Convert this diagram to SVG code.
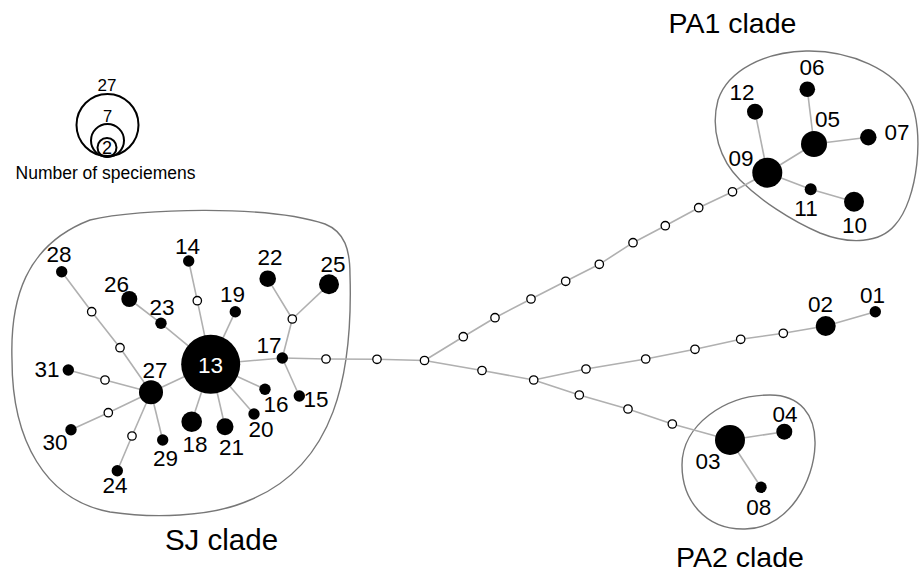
<svg xmlns="http://www.w3.org/2000/svg" width="922" height="575" viewBox="0 0 922 575">
  <style>
    text { font-family: "Liberation Sans", Arial, Helvetica, sans-serif; fill: #000; }
    .lbl { font-size: 22.5px; text-anchor: middle; }
    .clade-name { font-size: 28.5px; text-anchor: middle; }
    .legend-txt { text-anchor: middle; }
    .hap { fill: #000; }
    .mv { fill: #fff; stroke: #000; stroke-width: 1.3; }
    .edge { fill: none; stroke: #b0b0b0; stroke-width: 1.6; stroke-linejoin: round; }
    .clade { fill: none; stroke: #777; stroke-width: 1.4; }
    .legend-ring { fill: none; stroke: #000; stroke-width: 2; }
  </style>

  <!-- size legend -->
  <g id="legend">
    <circle class="legend-ring" cx="107.5" cy="125" r="31"/>
    <circle class="legend-ring" cx="107.5" cy="140.5" r="16.5"/>
    <circle class="legend-ring" cx="107" cy="147.5" r="9.5"/>
    <text class="legend-txt" x="107" y="91" style="font-size:17px">27</text>
    <text class="legend-txt" x="107.5" y="121.5" style="font-size:16.5px">7</text>
    <text class="legend-txt" x="107" y="153.5" style="font-size:18px">2</text>
    <text class="legend-txt" x="105.5" y="178.5" style="font-size:17.5px">Number of speciemens</text>
  </g>

  <!-- clade outlines -->
  <g id="clade-SJ">
    <path class="clade" d="M 90,220 C 140,208 270,205 325,224 C 345,232 350,250 350,275 C 353,375 335,465 250,500 C 210,518 150,518 110,512 C 45,500 12,440 12,360 C 10,300 25,245 90,220 Z"/>
    <text class="clade-name" x="221.5" y="550" style="font-size:29.5px">SJ clade</text>
  </g>
  <g id="clade-PA1">
    <path class="clade" d="M 806,51 C 850,50 895,70 910,100 C 925,130 918,200 895,225 C 880,243 850,245 820,233 C 790,220 760,200 740,180 C 720,160 710,130 718,100 C 728,70 765,52 806,51 Z"/>
    <text class="clade-name" x="732.5" y="33">PA1 clade</text>
  </g>
  <g id="clade-PA2">
    <path class="clade" d="M 770,395 C 800,395 816,415 815,445 C 814,480 790,528 745,529 C 705,530 682,500 682,465 C 682,425 725,395 770,395 Z"/>
    <text class="clade-name" x="740" y="567">PA2 clade</text>
  </g>

  <!-- connectors -->
  <g id="connectors">
    <polyline class="edge" points="61.7,271.7 91.7,311.7 120,347.7 151,392.3"/>
    <polyline class="edge" points="68.3,370 105,380 151,392.3"/>
    <polyline class="edge" points="71,429.7 108.3,412.7 151,392.3"/>
    <polyline class="edge" points="117.3,470.7 132,436 151,392.3"/>
    <line class="edge" x1="162.7" y1="440" x2="151" y2="392.3"/>
    <line class="edge" x1="151" y1="392.3" x2="210.7" y2="364.3"/>
    <polyline class="edge" points="129.3,299 161,323.3 210.7,364.3"/>
    <polyline class="edge" points="188.7,261 197.3,300.7 210.7,364.3"/>
    <line class="edge" x1="235.3" y1="311.7" x2="210.7" y2="364.3"/>
    <line class="edge" x1="191.7" y1="421.7" x2="210.7" y2="364.3"/>
    <line class="edge" x1="225" y1="426.7" x2="210.7" y2="364.3"/>
    <line class="edge" x1="254" y1="414" x2="210.7" y2="364.3"/>
    <line class="edge" x1="265" y1="389.3" x2="210.7" y2="364.3"/>
    <line class="edge" x1="210.7" y1="364.3" x2="282.3" y2="358"/>
    <polyline class="edge" points="267.7,278.7 292.3,319 282.3,358"/>
    <line class="edge" x1="329" y1="284.3" x2="292.3" y2="319"/>
    <line class="edge" x1="282.3" y1="358" x2="299.3" y2="396"/>
    <polyline class="edge" points="282.3,358 326,359 377,359.3 424.5,360.5"/>
    <polyline class="edge" points="424.5,360.5 463.3,336.7 495,317.7 531,299 565.7,281.3 599.3,264.3 633,242.7 665.3,225.7 698.7,207.7 732.5,191.8 767.3,172.7"/>
    <polyline class="edge" points="424.5,360.5 482,370.5 533.7,380 586,369 645.7,359 695,349.3 740.7,339.3 783.3,333.3 825.7,326 875.3,311.7"/>
    <polyline class="edge" points="533.7,380 579.3,395 628,409 672.3,424 730,440"/>
    <line class="edge" x1="730" y1="440" x2="784.3" y2="431.7"/>
    <line class="edge" x1="730" y1="440" x2="761" y2="487.3"/>
    <line class="edge" x1="767.3" y1="172.7" x2="755" y2="111.7"/>
    <line class="edge" x1="767.3" y1="172.7" x2="814" y2="144"/>
    <line class="edge" x1="814" y1="144" x2="807.3" y2="89.3"/>
    <line class="edge" x1="814" y1="144" x2="868.3" y2="137.3"/>
    <polyline class="edge" points="767.3,172.7 810.7,189.3 854,201.7"/>
  </g>

  <!-- median vectors (unsampled haplotypes) -->
  <g id="mv-1"><circle class="mv" cx="91.7" cy="311.7" r="4.2"/></g>
  <g id="mv-2"><circle class="mv" cx="120" cy="347.7" r="4.2"/></g>
  <g id="mv-3"><circle class="mv" cx="105" cy="380" r="4.2"/></g>
  <g id="mv-4"><circle class="mv" cx="108.3" cy="412.7" r="4.2"/></g>
  <g id="mv-5"><circle class="mv" cx="132" cy="436" r="4.2"/></g>
  <g id="mv-6"><circle class="mv" cx="197.3" cy="300.7" r="4.2"/></g>
  <g id="mv-7"><circle class="mv" cx="292.3" cy="319" r="4.2"/></g>
  <g id="mv-8"><circle class="mv" cx="326" cy="359" r="4.2"/></g>
  <g id="mv-9"><circle class="mv" cx="377" cy="359.3" r="4.2"/></g>
  <g id="mv-10"><circle class="mv" cx="424.5" cy="360.5" r="4.2"/></g>
  <g id="mv-11"><circle class="mv" cx="463.3" cy="336.7" r="4.2"/></g>
  <g id="mv-12"><circle class="mv" cx="495" cy="317.7" r="4.2"/></g>
  <g id="mv-13"><circle class="mv" cx="531" cy="299" r="4.2"/></g>
  <g id="mv-14"><circle class="mv" cx="565.7" cy="281.3" r="4.2"/></g>
  <g id="mv-15"><circle class="mv" cx="599.3" cy="264.3" r="4.2"/></g>
  <g id="mv-16"><circle class="mv" cx="633" cy="242.7" r="4.2"/></g>
  <g id="mv-17"><circle class="mv" cx="665.3" cy="225.7" r="4.2"/></g>
  <g id="mv-18"><circle class="mv" cx="698.7" cy="207.7" r="4.2"/></g>
  <g id="mv-19"><circle class="mv" cx="732.5" cy="191.8" r="4.2"/></g>
  <g id="mv-20"><circle class="mv" cx="482" cy="370.5" r="4.2"/></g>
  <g id="mv-21"><circle class="mv" cx="533.7" cy="380" r="4.2"/></g>
  <g id="mv-22"><circle class="mv" cx="586" cy="369" r="4.2"/></g>
  <g id="mv-23"><circle class="mv" cx="645.7" cy="359" r="4.2"/></g>
  <g id="mv-24"><circle class="mv" cx="695" cy="349.3" r="4.2"/></g>
  <g id="mv-25"><circle class="mv" cx="740.7" cy="339.3" r="4.2"/></g>
  <g id="mv-26"><circle class="mv" cx="783.3" cy="333.3" r="4.2"/></g>
  <g id="mv-27"><circle class="mv" cx="579.3" cy="395" r="4.2"/></g>
  <g id="mv-28"><circle class="mv" cx="628" cy="409" r="4.2"/></g>
  <g id="mv-29"><circle class="mv" cx="672.3" cy="424" r="4.2"/></g>

  <!-- sampled haplotypes: SJ clade -->
  <g id="hap-13"><circle class="hap" cx="210.7" cy="364.3" r="29.5"/><text class="lbl" x="210.5" y="372.5" style="fill:#fff">13</text></g>
  <g id="hap-27"><circle class="hap" cx="151" cy="392.3" r="12"/><text class="lbl" x="155" y="377.5">27</text></g>
  <g id="hap-28"><circle class="hap" cx="61.7" cy="271.7" r="5.7"/><text class="lbl" x="59" y="262">28</text></g>
  <g id="hap-26"><circle class="hap" cx="129.3" cy="299" r="8"/><text class="lbl" x="116.5" y="292">26</text></g>
  <g id="hap-23"><circle class="hap" cx="161" cy="323.3" r="5.7"/><text class="lbl" x="162" y="314.5">23</text></g>
  <g id="hap-14"><circle class="hap" cx="188.7" cy="261" r="5.7"/><text class="lbl" x="187.5" y="253.5">14</text></g>
  <g id="hap-19"><circle class="hap" cx="235.3" cy="311.7" r="5.7"/><text class="lbl" x="232.5" y="302">19</text></g>
  <g id="hap-22"><circle class="hap" cx="267.7" cy="278.7" r="8.3"/><text class="lbl" x="270" y="265">22</text></g>
  <g id="hap-25"><circle class="hap" cx="329" cy="284.3" r="10"/><text class="lbl" x="333" y="272">25</text></g>
  <g id="hap-17"><circle class="hap" cx="282.3" cy="358" r="5.7"/><text class="lbl" x="269" y="353">17</text></g>
  <g id="hap-31"><circle class="hap" cx="68.3" cy="370" r="5.7"/><text class="lbl" x="47" y="377">31</text></g>
  <g id="hap-30"><circle class="hap" cx="71" cy="429.7" r="5.7"/><text class="lbl" x="55" y="450">30</text></g>
  <g id="hap-24"><circle class="hap" cx="117.3" cy="470.7" r="5.7"/><text class="lbl" x="115" y="493">24</text></g>
  <g id="hap-29"><circle class="hap" cx="162.7" cy="440" r="5.7"/><text class="lbl" x="165.5" y="466">29</text></g>
  <g id="hap-18"><circle class="hap" cx="191.7" cy="421.7" r="10.3"/><text class="lbl" x="195" y="452">18</text></g>
  <g id="hap-21"><circle class="hap" cx="225" cy="426.7" r="8.5"/><text class="lbl" x="231.5" y="455">21</text></g>
  <g id="hap-20"><circle class="hap" cx="254" cy="414" r="5.7"/><text class="lbl" x="261" y="437">20</text></g>
  <g id="hap-16"><circle class="hap" cx="265" cy="389.3" r="5.7"/><text class="lbl" x="276" y="412">16</text></g>
  <g id="hap-15"><circle class="hap" cx="299.3" cy="396" r="5.7"/><text class="lbl" x="316" y="407">15</text></g>

  <!-- sampled haplotypes: PA1 clade -->
  <g id="hap-09"><circle class="hap" cx="767.3" cy="172.7" r="15"/><text class="lbl" x="741" y="166">09</text></g>
  <g id="hap-12"><circle class="hap" cx="755" cy="111.7" r="8"/><text class="lbl" x="742" y="100">12</text></g>
  <g id="hap-05"><circle class="hap" cx="814" cy="144" r="13"/><text class="lbl" x="827.5" y="127">05</text></g>
  <g id="hap-06"><circle class="hap" cx="807.3" cy="89.3" r="7.8"/><text class="lbl" x="812" y="75">06</text></g>
  <g id="hap-07"><circle class="hap" cx="868.3" cy="137.3" r="8.2"/><text class="lbl" x="897" y="140">07</text></g>
  <g id="hap-11"><circle class="hap" cx="810.7" cy="189.3" r="6"/><text class="lbl" x="806" y="216">11</text></g>
  <g id="hap-10"><circle class="hap" cx="854" cy="201.7" r="10"/><text class="lbl" x="854.5" y="233">10</text></g>

  <!-- sampled haplotypes: PA2 clade and branch -->
  <g id="hap-03"><circle class="hap" cx="730" cy="440" r="15"/><text class="lbl" x="708" y="468.5">03</text></g>
  <g id="hap-04"><circle class="hap" cx="784.3" cy="431.7" r="8"/><text class="lbl" x="785" y="422">04</text></g>
  <g id="hap-08"><circle class="hap" cx="761" cy="487.3" r="5.7"/><text class="lbl" x="758.7" y="515">08</text></g>
  <g id="hap-02"><circle class="hap" cx="825.7" cy="326" r="10"/><text class="lbl" x="820.5" y="312">02</text></g>
  <g id="hap-01"><circle class="hap" cx="875.3" cy="311.7" r="5.7"/><text class="lbl" x="872.5" y="303">01</text></g>
</svg>
